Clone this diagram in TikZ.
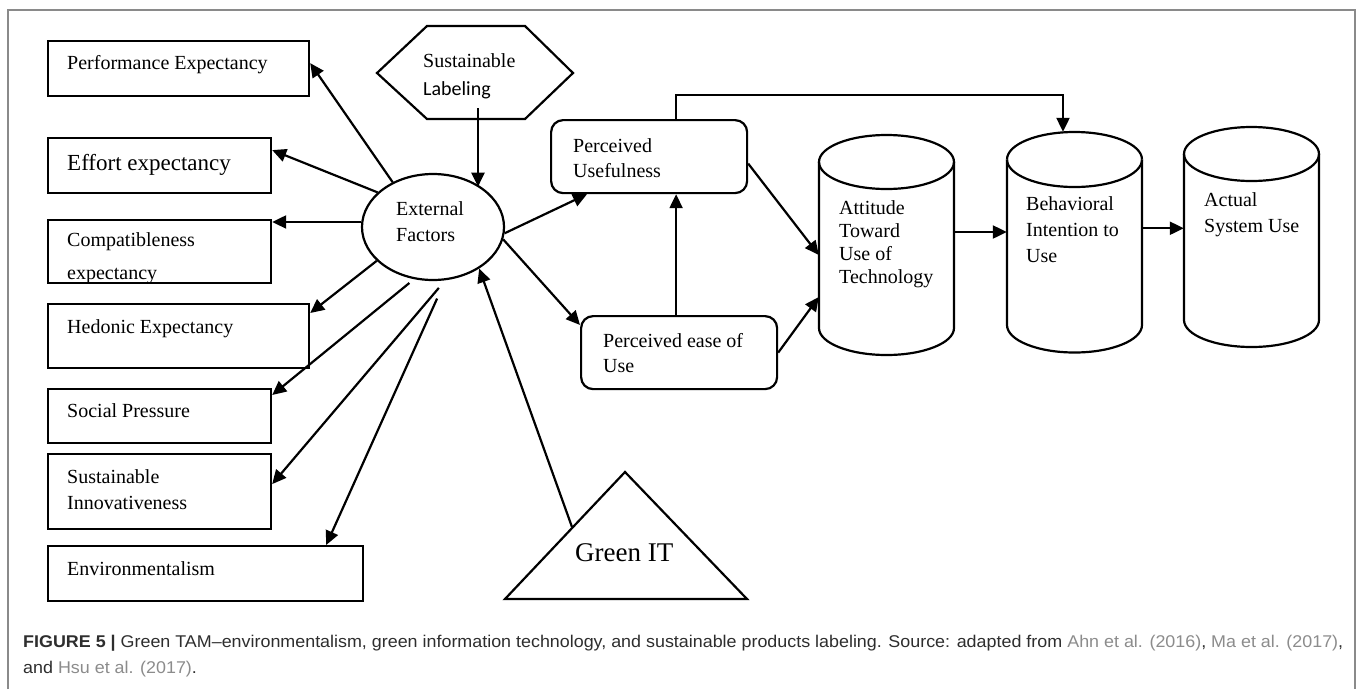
\documentclass[tikz,border=0pt]{standalone}
\usepackage{graphicx}
\usepackage{fontspec}
\setmainfont{Liberation Serif}
\newfontfamily\calfont{Carlito}
\newfontfamily\capfont{Liberation Sans}
\usetikzlibrary{arrows.meta,shapes.geometric,calc}
\definecolor{framegray}{HTML}{8A8A8A}
\definecolor{captext}{HTML}{2E2E2E}
\definecolor{citegray}{HTML}{8C8C8C}
\newcommand\ml[1]{\begin{tabular}[t]{@{}l@{}}#1\end{tabular}}
\newsavebox\capA
\newsavebox\capB
\begin{document}
\sbox\capA{\capfont\fontsize{17}{20}\selectfont\color{captext}\textbf{FIGURE 5 |} Green TAM–environmentalism, green information technology, and sustainable products labeling. Source: adapted from {\color{citegray}Ahn et al. (2016)}, {\color{citegray}Ma et al. (2017)},}%
\sbox\capB{\capfont\fontsize{17}{20}\selectfont\color{captext}and {\color{citegray}Hsu et al. (2017)}.}%
\begin{tikzpicture}[x=1pt,y=-1pt,
  box/.style={draw,line width=2.2pt,inner sep=0pt,anchor=north west},
  rbox/.style={box,rounded corners=12pt},
  arr/.style={line width=2.2pt,-{Triangle[length=14pt,width=13pt]}},
  shp/.style={line width=2.2pt},
  lbl/.style={anchor=base west,inner sep=0pt,font=\fontsize{20}{26}\selectfont},
]
\useasboundingbox (0,0) rectangle (1360,689);
\fill[white] (0,0) rectangle (1360,689);
\draw[framegray,line width=2pt] (8,689) -- (8,10) -- (1355,10) -- (1355,689);

% left boxes
\node[box,minimum width=261pt,minimum height=55pt] (pe) at (47,40) {};
\node[box,minimum width=223pt,minimum height=55pt] (ee) at (47,137) {};
\node[box,minimum width=223pt,minimum height=63pt] (ce) at (47,219) {};
\node[box,minimum width=261pt,minimum height=64pt] (he) at (47,303) {};
\node[box,minimum width=223pt,minimum height=54pt] (sp) at (47,388) {};
\node[box,minimum width=223pt,minimum height=75pt] (si) at (47,453) {};
\node[box,minimum width=315pt,minimum height=55pt] (en) at (47,545) {};

\node[lbl] (tpe) at (67,69) {Performance Expectancy};
\node[lbl,font=\fontsize{23}{28}\selectfont] (tee) at (67,170) {Effort expectancy};
\begin{scope}
\clip (48,220) rectangle (269,281);
\node[lbl,font=\fontsize{20}{33}\selectfont] (tce) at (67,246) {\ml{Compatibleness\\expectancy}};
\end{scope}
\node[lbl] (the) at (67,333) {Hedonic Expectancy};
\node[lbl] (tsp) at (67,417) {Social Pressure};
\node[lbl] (tsi) at (67,483) {\ml{Sustainable\\Innovativeness}};
\node[lbl] (ten) at (67,575) {Environmentalism};

% external factors
\node[draw,ellipse,line width=2.2pt,minimum width=142pt,minimum height=106pt,inner sep=0pt] (ef) at (433,227) {};
\node[lbl] (tef) at (396,215) {\ml{External\\Factors}};

% hexagon
\draw[shp] (377,73) -- (427,26) -- (525,26) -- (573,73) -- (525,119) -- (427,119) -- cycle;
\node[lbl] (tsl1) at (423,67) {Sustainable};
\node[lbl] (tsl2) at (423,95) {\calfont Labeling};
\coordinate (hexb) at (478,108);

% green IT
\draw[shp] (625,472) -- (747,599) -- (505,599) -- cycle;
\node[lbl,font=\fontsize{27}{32}\selectfont] (git) at (575,561) {Green IT};
\coordinate (gitl) at (572,527);

% perceived boxes
\node[rbox,minimum width=196pt,minimum height=73pt] (pu) at (550,119) {};
\node[rbox,minimum width=196pt,minimum height=73pt] (peu) at (580,315) {};
\node[lbl,font=\fontsize{20}{25}\selectfont] (tpu) at (573,152) {\ml{Perceived\\Usefulness}};
\node[lbl,font=\fontsize{20}{25}\selectfont] (tpeu) at (603,347) {\ml{Perceived ease of\\Use}};

% cylinders
\newcommand\cyl[7]{% name, x1, x2, ytop, ybot, rx, ry
  \draw[shp] (#2,#4) -- (#2,#5) arc[start angle=180,end angle=0,x radius=#6,y radius=#7] -- (#3,#4);
  \draw[shp] (#2,#4) arc[start angle=180,end angle=0,x radius=#6,y radius=#7];
  \draw[shp] (#2,#4) arc[start angle=180,end angle=360,x radius=#6,y radius=#7];
  \node[inner sep=0pt,minimum width=#3pt-#2pt,minimum height=#5pt-#4pt] (#1) at ({(#2+#3)/2},{(#4+#5)/2}) {};
}
\cyl{att}{819}{954}{162}{328}{67.5}{27}
\cyl{bi}{1007}{1142}{159.5}{325}{67.5}{27.5}
\cyl{asu}{1184}{1319}{154}{320}{67.5}{27}
\node[lbl,font=\fontsize{20}{23.3}\selectfont] (tatt) at (839,214) {\ml{Attitude\\Toward\\Use of\\Technology}};
\node[lbl,font=\fontsize{20}{26}\selectfont] (tbi) at (1026,210) {\ml{Behavioral\\Intention to\\Use}};
\node[lbl,font=\fontsize{20}{26}\selectfont] (tasu) at (1204,206) {\ml{Actual\\System Use}};

% connectors from external factors
\draw[arr] (ef.132) -- ([yshift=5.5pt]pe.east);
\draw[arr] (ef.148) -- ([yshift=15.5pt]ee.east);
\draw[arr] (ef.176) -- (ef.176 -| ce.east);
\draw[arr] (ef.211) -- ([yshift=-10pt]he.north east);
\draw[arr,shorten <=6pt] (ef.250) -- ([yshift=-7pt]sp.north east);
\draw[arr,shorten <=10pt] (ef.283) -- ([yshift=7.5pt]si.east);
\draw[arr,shorten <=20pt] (ef.283) -- ([xshift=-38pt]en.north east);
\draw[arr] (hexb) -- (hexb |- ef.40);
\draw[arr] (gitl) -- (ef.318);
\draw[arr] (ef.355) -- ([xshift=37pt]pu.south west);
\draw[arr] (ef.350) -- ([yshift=-10pt]peu.north west);

% TAM connectors
\draw[arr] ([xshift=-3pt]peu.north) -- ([xshift=-3pt]peu.north |- pu.south);
\draw[arr] ([yshift=-7pt]pu.east) -- ([yshift=-10pt]att.west);
\draw[arr] (peu.east) -- ([yshift=-52pt]att.west);
\draw[arr] ([xshift=27pt]pu.north) |- ([xshift=-11.5pt,yshift=64.5pt]bi.north) -- ([xshift=-11.5pt,yshift=27.5pt]bi.north);
\draw[arr] ([yshift=13pt]att.east) -- ([yshift=13pt]att.east -| bi.west);
\draw[arr] ([yshift=14pt]bi.east) -- ([yshift=14pt]bi.east -| asu.west);

% caption
\pgfmathsetmacro\capsc{1320/\wd\capA}
\node[anchor=base west,inner sep=0pt] (cap1) at (23,647) {\scalebox{\capsc}[1]{\usebox\capA}};
\node[anchor=base west,inner sep=0pt] (cap2) at (23,673) {\scalebox{\capsc}[1]{\usebox\capB}};
\end{tikzpicture}
\end{document}
